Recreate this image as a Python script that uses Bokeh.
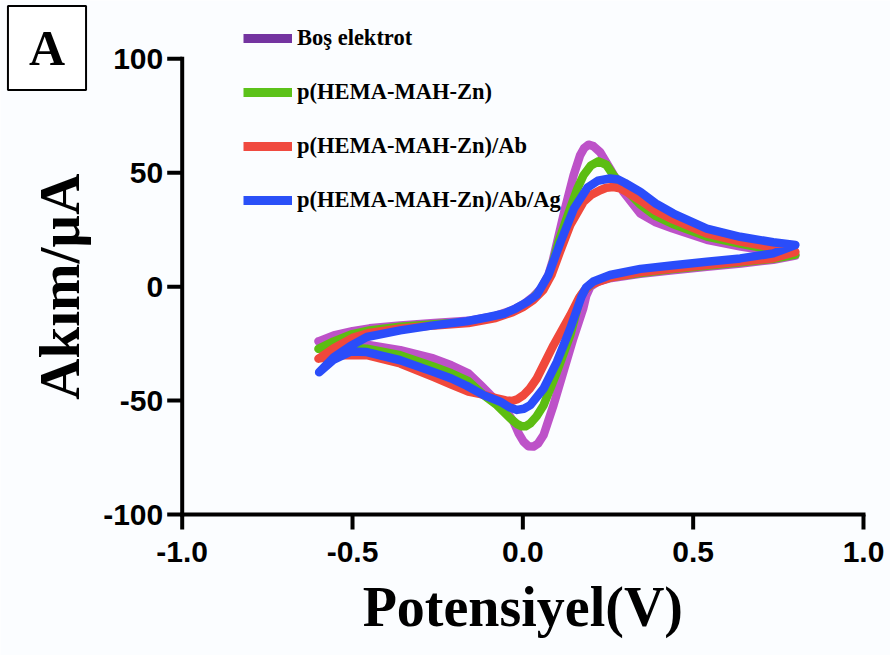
import math
from bokeh.plotting import figure
from bokeh.models import Range1d, Legend, LegendItem, Label
from bokeh.core.properties import value
from bokeh.embed import file_html
from bokeh.resources import INLINE

# ---------------- data ----------------
series_labels = ["Boş elektrot", "p(HEMA-MAH-Zn)", "p(HEMA-MAH-Zn)/Ab", "p(HEMA-MAH-Zn)/Ab/Ag"]
x_ticks = [-1.0, -0.5, 0.0, 0.5, 1.0]
x_tick_labels = ["-1.0", "-0.5", "0.0", "0.5", "1.0"]
y_ticks = [-100, -50, 0, 50, 100]
y_tick_labels = ["-100", "-50", "0", "50", "100"]
x_title = "Potensiyel(V)"
y_title = "Akım/µA"
panel_letter = "A"

# Boş elektrot: forward (upper) branch then reverse (lower) branch
bos_x = [-0.60, -0.555, -0.50, -0.45, -0.36, -0.26, -0.16, -0.08, -0.03, 0.00, 0.03, 0.055, 0.075,
         0.088, 0.101, 0.124, 0.149, 0.168, 0.18, 0.193, 0.207, 0.227, 0.256, 0.295, 0.345, 0.39,
         0.44, 0.54, 0.64, 0.735, 0.80,
         0.735, 0.64, 0.54, 0.44, 0.345, 0.26, 0.22, 0.198, 0.186, 0.177, 0.148, 0.119, 0.09,
         0.061, 0.045, 0.031, 0.016, 0.002, -0.012, -0.027, -0.05, -0.076, -0.10, -0.124,
         -0.16, -0.21, -0.263, -0.36, -0.458, -0.53, -0.60]
bos_y = [-24.0, -21.4, -19.5, -18.3, -17.0, -16.0, -15.0, -12.8, -10.3, -8.0, -4.5, -0.5, 5.1,
         11.5, 19.7, 34.3, 48.9, 57.6, 60.8, 62.3, 61.7, 59.0, 51.8, 41.6, 32.1, 28.3,
         25.5, 20.6, 17.6, 15.3, 13.6,
         11.8, 10.2, 8.7, 7.2, 5.6, 3.8, 2.2, 0.0, -4.0, -9.7, -22.8, -37.4, -52.0,
         -65.1, -68.8, -70.2, -70.0, -68.0, -64.5, -59.3, -54.2, -50.5, -46.8, -43.2,
         -38.0, -34.5, -31.5, -27.9, -25.5, -24.3, -24.0]

# p(HEMA-MAH-Zn)
zn_x = [-0.60, -0.555, -0.50, -0.45, -0.36, -0.26, -0.16, -0.08, -0.03, 0.00, 0.03, 0.055, 0.08,
        0.105, 0.139, 0.16, 0.178, 0.20, 0.222, 0.245, 0.266, 0.30, 0.345, 0.39, 0.44, 0.54, 0.64,
        0.735, 0.80,
        0.735, 0.64, 0.54, 0.44, 0.345, 0.26, 0.21, 0.185, 0.17, 0.139, 0.10, 0.061, 0.04, 0.022,
        0.008, -0.003, -0.018, -0.037, -0.076, -0.115, -0.16, -0.21, -0.263, -0.36, -0.458,
        -0.53, -0.60]
zn_y = [-27.3, -24.0, -20.8, -19.2, -17.6, -16.5, -15.5, -13.2, -10.6, -8.3, -5.0, -1.0, 6.0,
        19.7, 34.3, 43.0, 48.9, 53.2, 55.0, 53.5, 48.9, 43.0, 36.0, 31.0, 27.5, 22.0, 18.8,
        16.1, 14.1,
        12.2, 10.7, 9.2, 7.7, 6.0, 4.2, 2.0, -1.0, -4.0, -21.4, -37.4, -52.0, -57.0, -60.0,
        -61.3, -61.3, -60.2, -57.8, -52.0, -47.6, -41.5, -38.0, -35.0, -30.1, -27.2,
        -26.8, -27.3]

# p(HEMA-MAH-Zn)/Ab
ab_x = [-0.60, -0.555, -0.50, -0.45, -0.36, -0.26, -0.16, -0.08, -0.03, 0.00, 0.03, 0.06, 0.085,
        0.109, 0.139, 0.178, 0.20, 0.227, 0.245, 0.266, 0.285, 0.30, 0.345, 0.39, 0.44, 0.54,
        0.64, 0.735, 0.80,
        0.735, 0.64, 0.54, 0.44, 0.345, 0.256, 0.20, 0.18, 0.165, 0.139, 0.09, 0.041, 0.02,
        0.002, -0.016, -0.032, -0.05, -0.076, -0.124, -0.16, -0.21, -0.263, -0.36, -0.458,
        -0.53, -0.60]
ab_y = [-31.6, -27.0, -22.5, -20.3, -18.4, -17.0, -16.0, -13.8, -11.2, -9.0, -6.0, -1.5, 5.5,
        15.3, 27.0, 37.2, 40.2, 42.3, 43.4, 43.7, 43.2, 42.0, 37.9, 33.2, 29.5, 23.3,
        19.8, 17.1, 15.3,
        12.5, 11.0, 9.5, 8.0, 6.3, 4.0, 1.0, -1.8, -5.0, -12.6, -25.7, -40.3, -44.8,
        -47.6, -49.4, -50.2, -49.9, -49.0, -47.2, -46.1, -43.0, -39.6, -33.7, -30.1,
        -30.0, -31.6]

# p(HEMA-MAH-Zn)/Ab/Ag
ag_x = [-0.598, -0.555, -0.506, -0.458, -0.36, -0.263, -0.165, -0.10, -0.056, -0.02, 0.012, 0.041,
        0.075, 0.111, 0.150, 0.19, 0.22, 0.256, 0.28, 0.30, 0.345, 0.39, 0.442, 0.54, 0.638,
        0.735, 0.80,
        0.735, 0.638, 0.54, 0.442, 0.345, 0.256, 0.207, 0.185, 0.172, 0.139, 0.10, 0.061, 0.022,
        0.003, -0.017, -0.04, -0.066, -0.115, -0.165, -0.21, -0.263, -0.36, -0.458, -0.506,
        -0.555, -0.598]
ag_y = [-37.6, -31.0, -26.0, -22.1, -19.2, -17.0, -15.2, -13.3, -11.9, -9.5, -6.8, -3.6,
        5.0, 19.7, 34.3, 43.5, 46.5, 47.5, 47.0, 45.5, 41.6, 36.5, 32.1, 25.5, 21.9,
        19.5, 18.3,
        14.6, 12.4, 10.9, 9.4, 7.8, 5.1, 2.3, -0.5, -4.5, -18.4, -33.0, -44.7, -52.0,
        -53.6, -54.1, -52.9, -50.5, -47.6, -43.5, -40.3, -37.4, -32.3, -28.7, -28.5,
        -32.0, -37.6]

# ---------------- styling ----------------
line_colors = ["#bd52c8", "#5cbd12", "#f0483c", "#2a4dfa"]
swatch_colors = ["#7434a0", "#5cc21a", "#f04a40", "#2a50f8"]
bg = "#fbfdff"

# The plotting frame covers the whole canvas (so nothing is clipped);
# the axes are drawn at x = -1.0 and y = -100 with the library's scales.
p = figure(width=890, height=655, output_backend="svg", toolbar_location=None,
           x_axis_location=None, y_axis_location=None,
           x_range=Range1d(-1.5334, 1.0793), y_range=Range1d(-161.88, 125.59),
           min_border=0)
p.background_fill_color = bg
p.border_fill_color = bg
p.outline_line_color = None
p.xgrid.grid_line_color = None
p.ygrid.grid_line_color = None

x0, x1 = x_ticks[0], x_ticks[-1]
y0, y1 = y_ticks[0], y_ticks[-1]

# axis lines
p.segment(x0=[x0, x0], y0=[y0, y0], x1=[x0, x1], y1=[y1, y0],
          line_color="black", line_width=4, line_cap="square")
# ticks (outside)
p.ray(x=[x0] * len(y_ticks), y=y_ticks, length=15, length_units="screen",
      angle=math.pi, line_color="black", line_width=4)
p.ray(x=x_ticks, y=[y0] * len(x_ticks), length=15, length_units="screen",
      angle=-math.pi / 2, line_color="black", line_width=4)
# tick labels
p.text(x=[x0] * len(y_ticks), y=y_ticks, text=y_tick_labels, x_offset=-19,
       text_align="right", text_baseline="middle", text_font=value("Liberation Sans"),
       text_font_style="bold", text_font_size="30px", text_color="black")
p.text(x=x_ticks, y=[y0] * len(x_ticks), text=x_tick_labels, y_offset=37,
       text_align="center", text_baseline="middle", text_font=value("Liberation Sans"),
       text_font_style="bold", text_font_size="30px", text_color="black")
# axis titles
p.text(x=[(x0 + x1) / 2], y=[y0], text=[x_title], y_offset=92,
       text_align="center", text_baseline="alphabetic", text_font=value("Liberation Serif"),
       text_font_style="bold", text_font_size="56px", text_color="black")
p.text(x=[x0], y=[(y0 + y1) / 2], text=[y_title], x_offset=-123, angle=math.pi / 2,
       text_align="center", text_baseline="alphabetic", text_font=value("Liberation Serif"),
       text_font_style="bold", text_font_size="57px", text_color="black")

# data curves
data = [(bos_x, bos_y), (zn_x, zn_y), (ab_x, ab_y), (ag_x, ag_y)]
for (xs, ys), c in zip(data, line_colors):
    p.line(xs, ys, line_color=c, line_width=8.5, line_join="round", line_cap="round")

# legend (swatches use the darker legend colours of the original)
nan = float("nan")
items = []
for lab, sc in zip(series_labels, swatch_colors):
    r = p.line(x=[nan], y=[nan], line_color=sc, line_width=9)
    items.append(LegendItem(label=lab, renderers=[r]))

legend = Legend(items=items, location=(243, 442), orientation="vertical",
                label_text_font="Liberation Serif", label_text_font_style="bold",
                label_text_font_size="22.5px", label_text_color="black",
                glyph_width=49, glyph_height=26, label_height=26, label_standoff=5,
                spacing=28, padding=0, margin=0, border_line_color=None,
                background_fill_alpha=0)
p.add_layout(legend)

panel_label = Label(x=46.5, y=607.5, x_units="screen", y_units="screen", text=panel_letter,
                    text_font="Liberation Serif", text_font_style="bold", text_font_size="50px",
                    text_color="black", text_align="center", text_baseline="middle",
                    border_line_color="black", border_line_width=2,
                    background_fill_color="white",
                    padding=dict(left=21, right=21, top=14, bottom=14))
p.add_layout(panel_label)

open("out.html", "w").write(file_html(p, INLINE))
